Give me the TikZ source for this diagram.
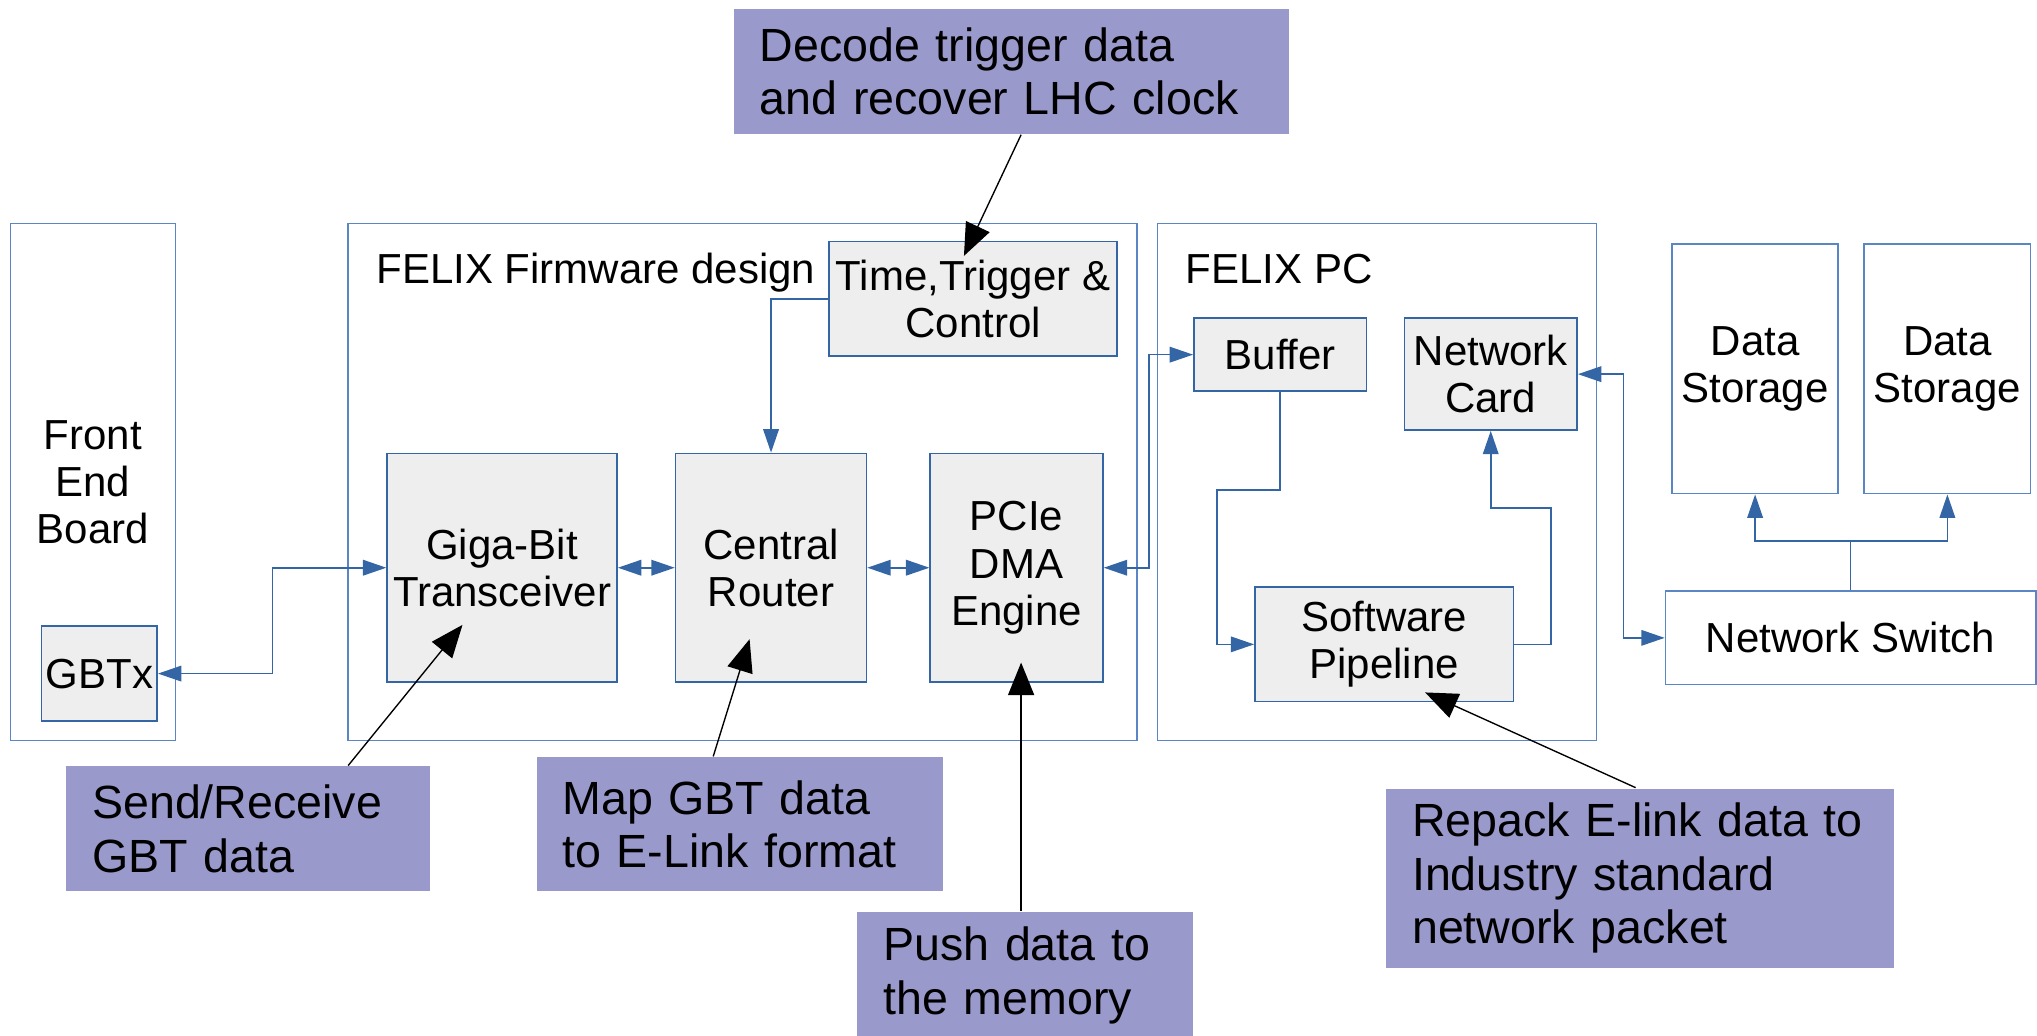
\documentclass[tikz,border=0pt]{standalone}
\usepackage{fontspec}
\setmainfont{Liberation Sans}
\usetikzlibrary{arrows.meta,calc}

\definecolor{boxblue}{HTML}{3465A4}
\definecolor{frameblue}{HTML}{5B86C5}
\definecolor{boxgray}{HTML}{EEEEEE}
\definecolor{notepurple}{HTML}{9999CC}

\newcommand\boxfont{\fontsize{9.2pt}{10.3pt}\selectfont}
\newcommand\notefont{\fontsize{10.2pt}{11.7pt}\selectfont}

\tikzset{
	outer/.style={draw=frameblue, line width=0.35pt, inner sep=0pt, font=\boxfont, align=center},
	blk/.style={draw=boxblue, fill=boxgray, line width=0.35pt, inner sep=0pt, font=\boxfont, align=center},
	note/.style={fill=notepurple, inner xsep=0.2cm, inner ysep=0pt, font=\notefont, align=left},
	link/.style={draw=boxblue, line width=0.35pt},
	pointer/.style={draw=black, line width=0.3pt, -{Triangle[length=0.25cm,width=0.2cm]}},
	>={Triangle[length=0.18cm,width=0.12cm]}
}

\begin{document}
\begin{tikzpicture}[x=1cm, y=-1cm]
			%%%%% FRAME %%%%%
			\useasboundingbox (0,0) rectangle (15.68,7.97);
			
			%%%%% OUTER BOXES %%%%%
			\node[outer, minimum width=1.27cm, minimum height=3.98cm] (feb) at (0.715,3.71) {Front\\End\\Board};
			\node[outer, minimum width=6.07cm, minimum height=3.98cm] (fw) at (5.715,3.71) {};
			\node[outer, minimum width=3.38cm, minimum height=3.98cm] (pc) at (10.60,3.71) {};
			\node[anchor=base west, inner sep=0pt, font=\boxfont] (fwlabel) at (2.89,2.185) {FELIX Firmware design};
			\node[anchor=base west, inner sep=0pt, font=\boxfont] (pclabel) at (9.12,2.185) {FELIX PC};
			
			%%%%% BLOCKS %%%%%
			\node[blk, minimum width=0.89cm, minimum height=0.73cm] (gbtx) at (0.765,5.185) {GBTx};
			\node[blk, minimum width=2.22cm, minimum height=0.88cm] (ttc) at (7.49,2.30) {Time,Trigger \&\\Control};
			\node[blk, minimum width=1.77cm, minimum height=1.76cm] (gbt) at (3.865,4.37) {Giga-Bit\\Transceiver};
			\node[blk, minimum width=1.47cm, minimum height=1.76cm] (cr) at (5.935,4.37) {Central\\Router};
			\node[blk, minimum width=1.33cm, minimum height=1.76cm] (pcie) at (7.825,4.37) {PCIe\\DMA\\Engine};
			\node[blk, minimum width=1.33cm, minimum height=0.56cm] (buf) at (9.855,2.73) {Buffer};
			\node[blk, minimum width=1.33cm, minimum height=0.86cm] (nic) at (11.475,2.88) {Network\\Card};
			\node[blk, minimum width=1.99cm, minimum height=0.88cm] (swp) at (10.655,4.96) {Software\\Pipeline};
			
			\node[outer, minimum width=1.28cm, minimum height=1.92cm] (ds1) at (13.51,2.84) {Data\\Storage};
			\node[outer, minimum width=1.28cm, minimum height=1.92cm] (ds2) at (14.99,2.84) {Data\\Storage};
			\node[outer, minimum width=2.85cm, minimum height=0.72cm] (sw) at (14.245,4.91) {Network Switch};
			
			%%%%% LINKS %%%%%
			\draw[link, <->] (gbtx.east) -- ++(0.88,0) |- (gbt.west);
			\draw[link, <->] (gbt.east) -- (cr.west);
			\draw[link, <->] (cr.east) -- (pcie.west);
			\draw[link, <->] (pcie.east) -- ++(0.35,0) |- (buf.west);
			\draw[link, ->] (ttc.west) -| (cr.north);
			\draw[link, ->] (buf.south) |- (9.37,3.77) |- (swp.west);
			\draw[link, ->] (swp.east) -| (11.94,3.91) -| (nic.south);
			\draw[link, <->] (nic.east) -- ++(0.35,0) |- (sw.west);
			\draw[link] (sw.north) -- ++(0,-0.38) coordinate (hub);
			\draw[link, ->] (hub) -| (ds1.south);
			\draw[link, ->] (hub) -| (ds2.south);
			
			%%%%% CALLOUTS %%%%%
			\node[note, text width=3.87cm, minimum height=0.96cm] (cdec) at (7.785,0.55) {Decode trigger data\\and recover LHC clock};
			\node[note, text width=2.40cm, minimum height=0.96cm] (csr) at (1.91,6.38) {Send/Receive\\GBT data};
			\node[note, text width=2.73cm, minimum height=1.03cm] (cmap) at (5.695,6.345) {Map GBT data\\to E-Link format};
			\node[note, text width=2.18cm, minimum height=0.98cm] (cpush) at (7.89,7.51) {Push data to\\the memory};
			\node[note, text width=3.51cm, minimum height=1.38cm] (crep) at (12.625,6.76) {Repack E-link data to\\Industry standard\\network packet};
			
			\coordinate (ttctip) at (7.42,1.97);
			\coordinate (gbttip) at (3.56,4.81);
			\coordinate (crtip) at (5.77,4.92);
			\coordinate (pcietip) at (7.86,5.10);
			\coordinate (swptip) at (10.97,5.33);
			
			\draw[pointer] ([xshift=0.075cm]cdec.south) -- (ttctip);
			\draw[pointer] ([xshift=0.77cm]csr.north) -- (gbttip);
			\draw[pointer] ([xshift=-0.205cm]cmap.north) -- (crtip);
			\draw[pointer] (cpush.north -| pcietip) -- (pcietip);
			\draw[pointer] ([xshift=-0.035cm]crep.north) -- (swptip);
			
\end{tikzpicture}
\end{document}
